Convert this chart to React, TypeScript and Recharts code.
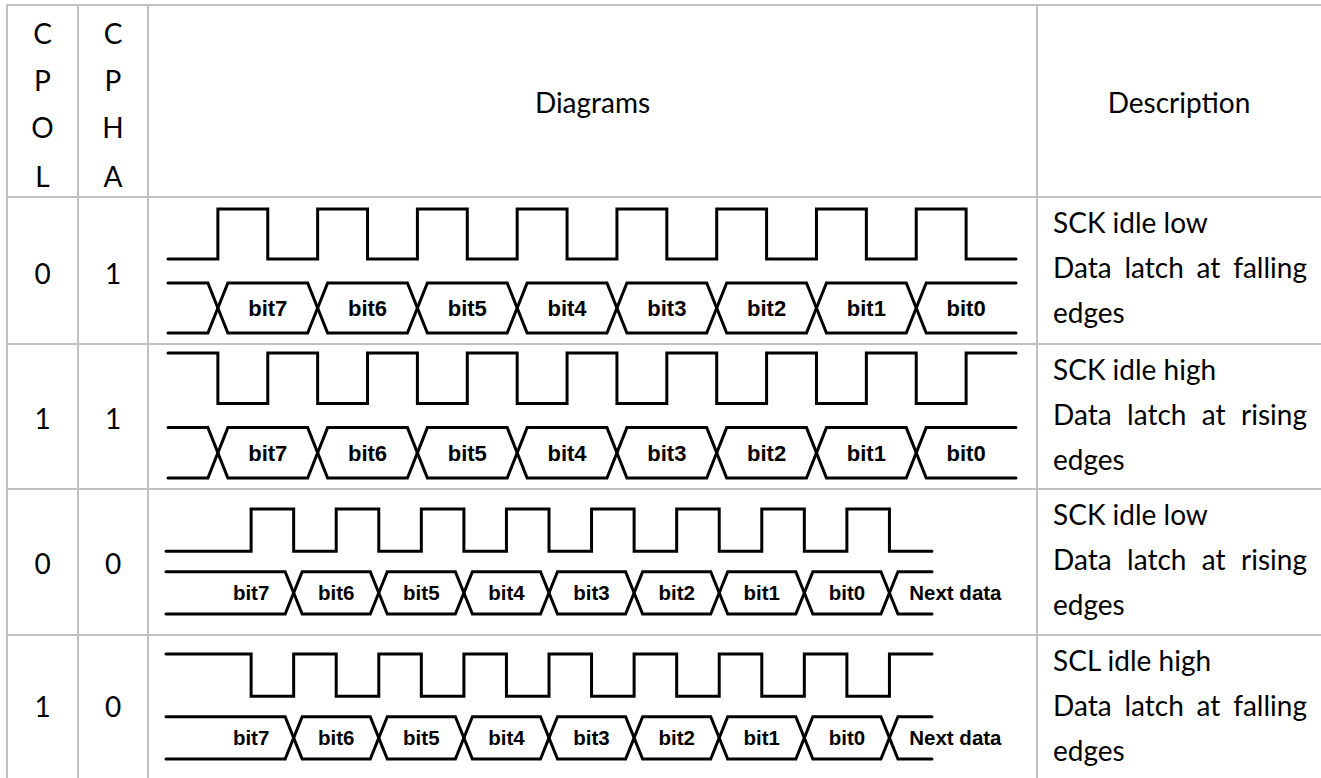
import { ComposedChart, Line, Scatter, XAxis, YAxis } from "recharts";

// SPI mode timing table (CPOL / CPHA)

const BIT_NAMES = ["bit7", "bit6", "bit5", "bit4", "bit3", "bit2", "bit1", "bit0"];
const LABELS_CPHA0 = [...BIT_NAMES, "Next data"];

// SCK level for every half clock period (0 = low, 1 = high), last entry closes the trace
const sckCpol0Cpha1 = [0, 1, 0, 1, 0, 1, 0, 1, 0, 1, 0, 1, 0, 1, 0, 1, 0, 0];
const sckCpol1Cpha1 = [1, 0, 1, 0, 1, 0, 1, 0, 1, 0, 1, 0, 1, 0, 1, 0, 1, 1];
const sckCpol0Cpha0 = [0, 0, 1, 0, 1, 0, 1, 0, 1, 0, 1, 0, 1, 0, 1, 0, 1, 0, 0];
const sckCpol1Cpha0 = [1, 1, 0, 1, 0, 1, 0, 1, 0, 1, 0, 1, 0, 1, 0, 1, 0, 1, 1];

// half periods where the data line changes
const dataEdgesCpha1 = [1, 3, 5, 7, 9, 11, 13, 15];
const dataEdgesCpha0 = [3, 5, 7, 9, 11, 13, 15, 17];

// centre of each bit label, in half periods
const labelPosCpha1 = [2, 4, 6, 8, 10, 12, 14, 16];
const labelPosCpha0 = [2, 4, 6, 8, 10, 12, 14, 16, 18.55];

const cpolValues = ["0", "1", "0", "1"];
const cphaValues = ["1", "1", "0", "0"];
const descIdle = ["SCK idle low", "SCK idle high", "SCK idle low", "SCL idle high"];
const descLatch = [
  "Data latch at falling",
  "Data latch at rising",
  "Data latch at rising",
  "Data latch at falling",
];
const descTail = ["edges", "edges", "edges", "edges"];

const BUS_TOP = -0.48;
const BUS_BOTTOM = -1.48;
const BUS_MID = -0.98;
const CROSS = 0.2;

const TEXT_FONT = "Lato, 'Open Sans', sans-serif";
const BIT_FONT = "'Liberation Sans', Arial, sans-serif";
const GRID = "#c0c0c0";

function busLines(edges: number[], end: number) {
  const a = [{ t: 0, y: BUS_TOP }];
  const b = [{ t: 0, y: BUS_BOTTOM }];
  let sa = BUS_TOP;
  let sb = BUS_BOTTOM;
  edges.forEach((e) => {
    a.push({ t: e - CROSS, y: sa });
    b.push({ t: e - CROSS, y: sb });
    [sa, sb] = [sb, sa];
    a.push({ t: e + CROSS, y: sa });
    b.push({ t: e + CROSS, y: sb });
  });
  a.push({ t: end, y: sa });
  b.push({ t: end, y: sb });
  return [a, b];
}

const rows = [
  { clock: sckCpol0Cpha1, edges: dataEdgesCpha1, end: 17, span: 17, labelPos: labelPosCpha1, labels: BIT_NAMES, left: 168, top: 209, unit: 848 / 17, height: 124, fontSize: 22 },
  { clock: sckCpol1Cpha1, edges: dataEdgesCpha1, end: 17, span: 17, labelPos: labelPosCpha1, labels: BIT_NAMES, left: 168, top: 353, unit: 848 / 17, height: 125, fontSize: 22 },
  { clock: sckCpol0Cpha0, edges: dataEdgesCpha0, end: 18, span: 20, labelPos: labelPosCpha0, labels: LABELS_CPHA0, left: 166, top: 509, unit: 766 / 18, height: 105, fontSize: 20.5 },
  { clock: sckCpol1Cpha0, edges: dataEdgesCpha0, end: 18, span: 20, labelPos: labelPosCpha0, labels: LABELS_CPHA0, left: 166, top: 654, unit: 766 / 18, height: 105, fontSize: 20.5 },
];

function Waveform({ row }: { row: (typeof rows)[number] }) {
  const pad = 4;
  const clockData = row.clock.map((v, i) => ({ t: i, y: v }));
  const [busA, busB] = busLines(row.edges, row.end);
  const labelData = row.labelPos.map((t, i) => ({ t, y: BUS_MID, name: row.labels[i] }));
  return (
    <div style={{ position: "absolute", left: row.left - pad, top: row.top - pad }}>
      <ComposedChart
        width={row.span * row.unit + 2 * pad}
        height={row.height + 2 * pad}
        margin={{ top: pad, right: pad, bottom: pad, left: pad }}
      >
        <XAxis type="number" dataKey="t" domain={[0, row.span]} hide />
        <YAxis type="number" dataKey="y" domain={[BUS_BOTTOM, 1]} hide />
        <Line data={clockData} dataKey="y" type="stepAfter" stroke="#000" strokeWidth={3} strokeLinecap="round" dot={false} activeDot={false} isAnimationActive={false} />
        <Line data={busA} dataKey="y" type="linear" stroke="#000" strokeWidth={3} strokeLinecap="round" dot={false} activeDot={false} isAnimationActive={false} />
        <Line data={busB} dataKey="y" type="linear" stroke="#000" strokeWidth={3} strokeLinecap="round" dot={false} activeDot={false} isAnimationActive={false} />
        <Scatter
          data={labelData}
          dataKey="y"
          isAnimationActive={false}
          shape={(p: any) => (
            <text
              x={p.cx}
              y={p.cy}
              dy="0.36em"
              textAnchor="middle"
              fontFamily={BIT_FONT}
              fontWeight="bold"
              fontSize={row.fontSize}
              fill="#000"
            >
              {p.payload.name}
            </text>
          )}
        />
      </ComposedChart>
    </div>
  );
}

const rowTops = [197, 344, 489, 635];
const digitBaselines = [284, 429, 574, 717];
const headerBaselines = [43.5, 90.5, 138, 186.5];

export default function App() {
  return (
    <div style={{ position: "absolute", left: 0, top: 0, width: 1321, height: 778, overflow: "hidden", background: "#fff" }}>
      <svg width={1321} height={778} style={{ position: "absolute", left: 0, top: 0 }}>
        <line x1={7} y1={5} x2={1321} y2={5} stroke={GRID} strokeWidth={2} />
        {rowTops.map((y) => (
          <line key={y} x1={7} y1={y} x2={1321} y2={y} stroke={GRID} strokeWidth={2} />
        ))}
        {[7, 78, 148, 1037].map((x) => (
          <line key={x} x1={x} y1={4} x2={x} y2={778} stroke={GRID} strokeWidth={2} />
        ))}
        {["C", "P", "O", "L"].map((c, i) => (
          <text key={"pol" + i} x={42.5} y={headerBaselines[i]} textAnchor="middle" fontFamily={TEXT_FONT} fontSize={28} fill="#000">
            {c}
          </text>
        ))}
        {["C", "P", "H", "A"].map((c, i) => (
          <text key={"pha" + i} x={113} y={headerBaselines[i]} textAnchor="middle" fontFamily={TEXT_FONT} fontSize={28} fill="#000">
            {c}
          </text>
        ))}
        <text x={592.5} y={113} textAnchor="middle" fontFamily={TEXT_FONT} fontSize={28} fill="#000">
          Diagrams
        </text>
        <text x={1179} y={113} textAnchor="middle" fontFamily={TEXT_FONT} fontSize={28} fill="#000">
          Description
        </text>
        {cpolValues.map((v, i) => (
          <text key={"cv" + i} x={42.5} y={digitBaselines[i]} textAnchor="middle" fontFamily={TEXT_FONT} fontSize={28} fill="#000">
            {v}
          </text>
        ))}
        {cphaValues.map((v, i) => (
          <text key={"hv" + i} x={113} y={digitBaselines[i]} textAnchor="middle" fontFamily={TEXT_FONT} fontSize={28} fill="#000">
            {v}
          </text>
        ))}
      </svg>

      {rows.map((row, i) => (
        <Waveform key={i} row={row} />
      ))}

      {rowTops.map((top, i) => (
        <div
          key={"d" + i}
          style={{
            position: "absolute",
            left: 1053,
            top: top + 3,
            width: 254,
            fontFamily: TEXT_FONT,
            fontSize: 28,
            lineHeight: "45px",
            color: "#000",
          }}
        >
          <div style={{ whiteSpace: "nowrap" }}>{descIdle[i]}</div>
          <div style={{ whiteSpace: "nowrap", textAlign: "justify", textAlignLast: "justify" }}>{descLatch[i]}</div>
          <div style={{ whiteSpace: "nowrap" }}>{descTail[i]}</div>
        </div>
      ))}
    </div>
  );
}
